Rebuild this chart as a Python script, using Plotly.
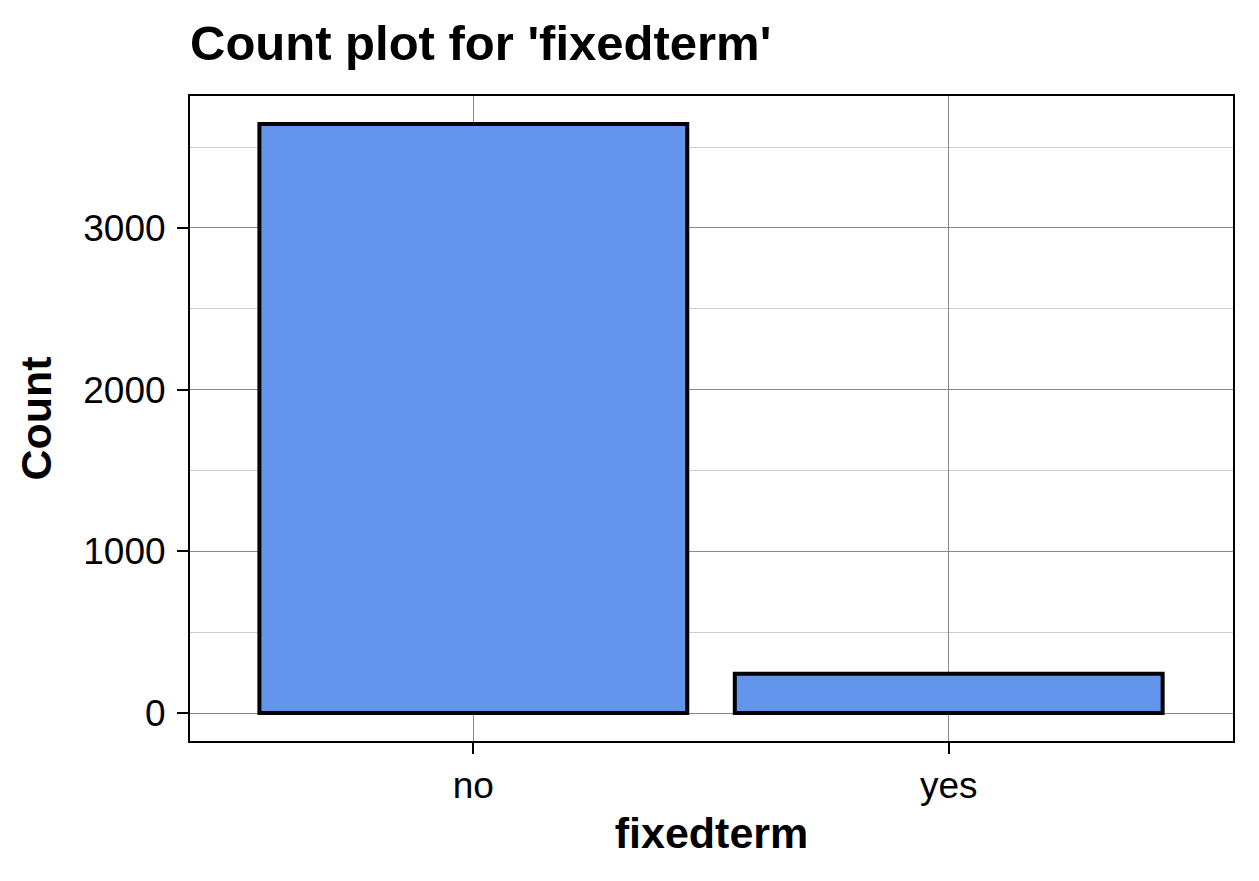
import plotly.graph_objects as go

categories = ["no", "yes"]
counts = [3643, 243]

title_text = "Count plot for 'fixedterm'"
x_label = "fixedterm"
y_label = "Count"
y_tickvals = [0, 1000, 2000, 3000]

FONT = "Liberation Sans, Arial, sans-serif"

W, H = 1259, 881
OFF = 8  # page body margin

fig = go.Figure()
fig.add_trace(go.Bar(
    x=categories, y=counts, width=0.9,
    marker=dict(color="#6495ED", line=dict(color="black", width=4)),
))

fig.update_layout(
    width=W, height=H,
    paper_bgcolor="white", plot_bgcolor="white",
    margin=dict(l=190 - OFF, r=W + OFF - 1233, t=96 - OFF, b=H + OFF - 741),
    showlegend=False,
    title=dict(text="<b>" + title_text + "</b>", x=(190 - OFF) / W, xanchor="left",
               y=1 - (43 - OFF) / H, yanchor="middle",
               font=dict(family=FONT, size=49, color="black")),
    font=dict(family=FONT, color="black"),
)

fig.update_xaxes(
    range=[-0.596, 1.598],
    showline=True, linecolor="black", linewidth=2, mirror=True,
    ticks="outside", ticklen=11, tickwidth=2, tickcolor="black",
    showgrid=True, gridcolor="#8a8a8a", gridwidth=1,
    tickfont=dict(size=37, family=FONT, color="black"),
    title=dict(text="<b>" + x_label + "</b>", font=dict(size=43, family=FONT, color="black"), standoff=12),
    zeroline=False,
)
fig.update_yaxes(
    range=[-173, 3816],
    tickvals=y_tickvals,
    showline=True, linecolor="black", linewidth=2, mirror=True,
    ticks="outside", ticklen=11, tickwidth=2, tickcolor="black",
    ticklabelstandoff=4,
    showgrid=True, gridcolor="#8a8a8a", gridwidth=1,
    minor=dict(dtick=500, showgrid=True, gridcolor="#cccccc", gridwidth=1, ticks=""),
    tickfont=dict(size=37, family=FONT, color="black"),
    title=dict(text="<b>" + y_label + "</b>", font=dict(size=43, family=FONT, color="black"), standoff=18),
    zeroline=False,
)

fig.write_html("out.html")
